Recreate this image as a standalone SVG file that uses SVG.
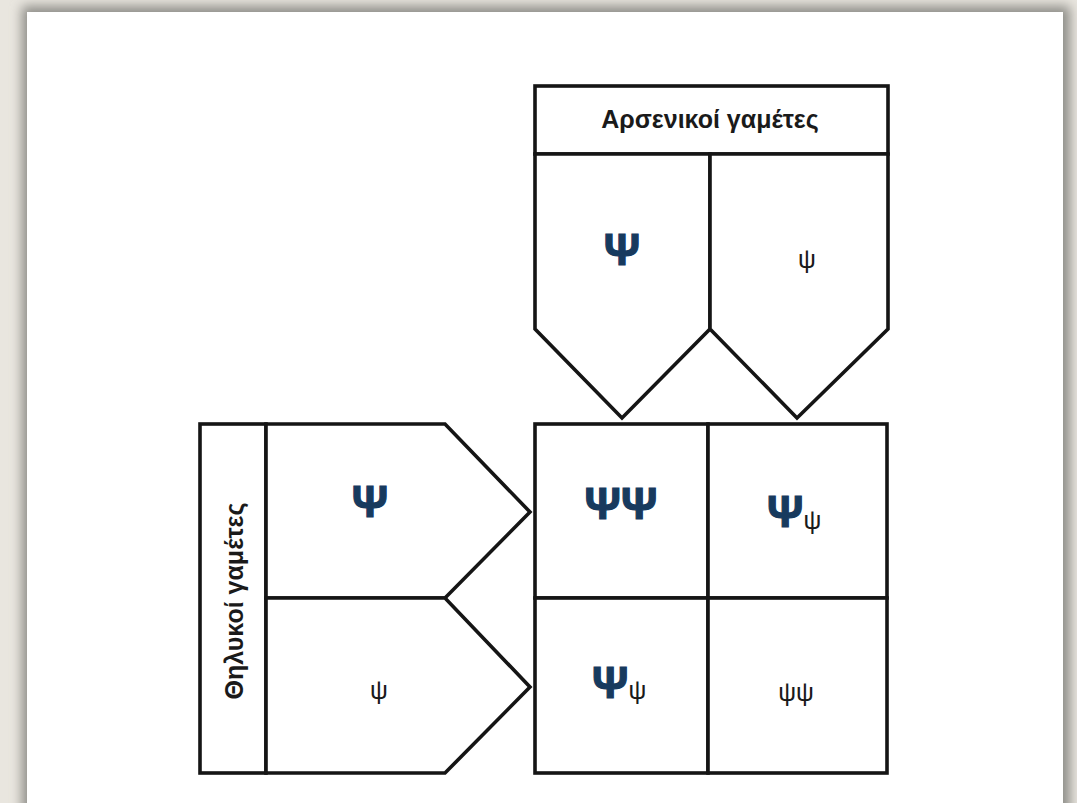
<svg xmlns="http://www.w3.org/2000/svg" width="1077" height="803" viewBox="0 0 1077 803">
<defs>
<filter id="sh" x="-5%" y="-5%" width="110%" height="110%"><feGaussianBlur stdDeviation="6"/></filter>
<style>
.ln{fill:#fff;stroke:#151515;stroke-width:3.6;stroke-linejoin:miter}
.lbl{font-family:"Liberation Sans",Arial,sans-serif;font-weight:bold;font-size:25px;fill:#1a1a1a;text-anchor:middle}
.big{font-family:"Liberation Sans",Arial,sans-serif;font-weight:bold;font-size:45px;fill:#173a5e;stroke:#173a5e;stroke-width:1.2}
.sm{font-family:"Liberation Sans",Arial,sans-serif;font-size:25px;fill:#1a1a1a}
.c{text-anchor:middle}
</style>
</defs>
<rect width="1077" height="803" fill="#e9e6df"/>
<rect x="22" y="6" width="1048" height="820" fill="#8e8d88" filter="url(#sh)"/>
<rect x="27" y="12" width="1036" height="800" fill="#fff"/>

<g id="male-header">
<rect class="ln" x="535" y="86" width="353" height="68"/>
<text class="lbl" x="710" y="128">Αρσενικοί γαμέτες</text>
</g>
<g id="male-Psi">
<path class="ln" d="M535 154 H710 V329 L622 418 L535 329 Z"/>
<text class="big c" x="622" y="265">Ψ</text>
</g>
<g id="male-psi">
<path class="ln" d="M710 154 H888 V329 L797 418 L710 329 Z"/>
<text class="sm c" x="807" y="268">ψ</text>
</g>

<g id="female-header">
<rect class="ln" x="200" y="424" width="66" height="349"/>
<text class="lbl" transform="translate(243 601) rotate(-90)" x="0" y="0">Θηλυκοί γαμέτες</text>
</g>
<g id="female-Psi">
<path class="ln" d="M266 424 H445 L530 512 L445 598 H266 Z"/>
<text class="big c" x="370" y="517">Ψ</text>
</g>
<g id="female-psi">
<path class="ln" d="M266 598 H445 L530 687 L445 773 H266 Z"/>
<text class="sm c" x="379" y="699">ψ</text>
</g>

<g id="cell-PsiPsi">
<rect class="ln" x="535" y="424" width="173" height="174"/>
<text class="big c" x="621" y="519">ΨΨ</text>
</g>
<g id="cell-Psipsi-top">
<rect class="ln" x="708" y="424" width="179" height="174"/>
<text x="767" y="527"><tspan class="big">Ψ</tspan><tspan class="sm" dy="2">ψ</tspan></text>
</g>
<g id="cell-Psipsi-bottom">
<rect class="ln" x="535" y="598" width="173" height="175"/>
<text x="592" y="698"><tspan class="big">Ψ</tspan><tspan class="sm" dy="1">ψ</tspan></text>
</g>
<g id="cell-psipsi">
<rect class="ln" x="708" y="598" width="179" height="175"/>
<text class="sm c" x="796" y="701">ψψ</text>
</g>
<g id="connectors"/>
</svg>
